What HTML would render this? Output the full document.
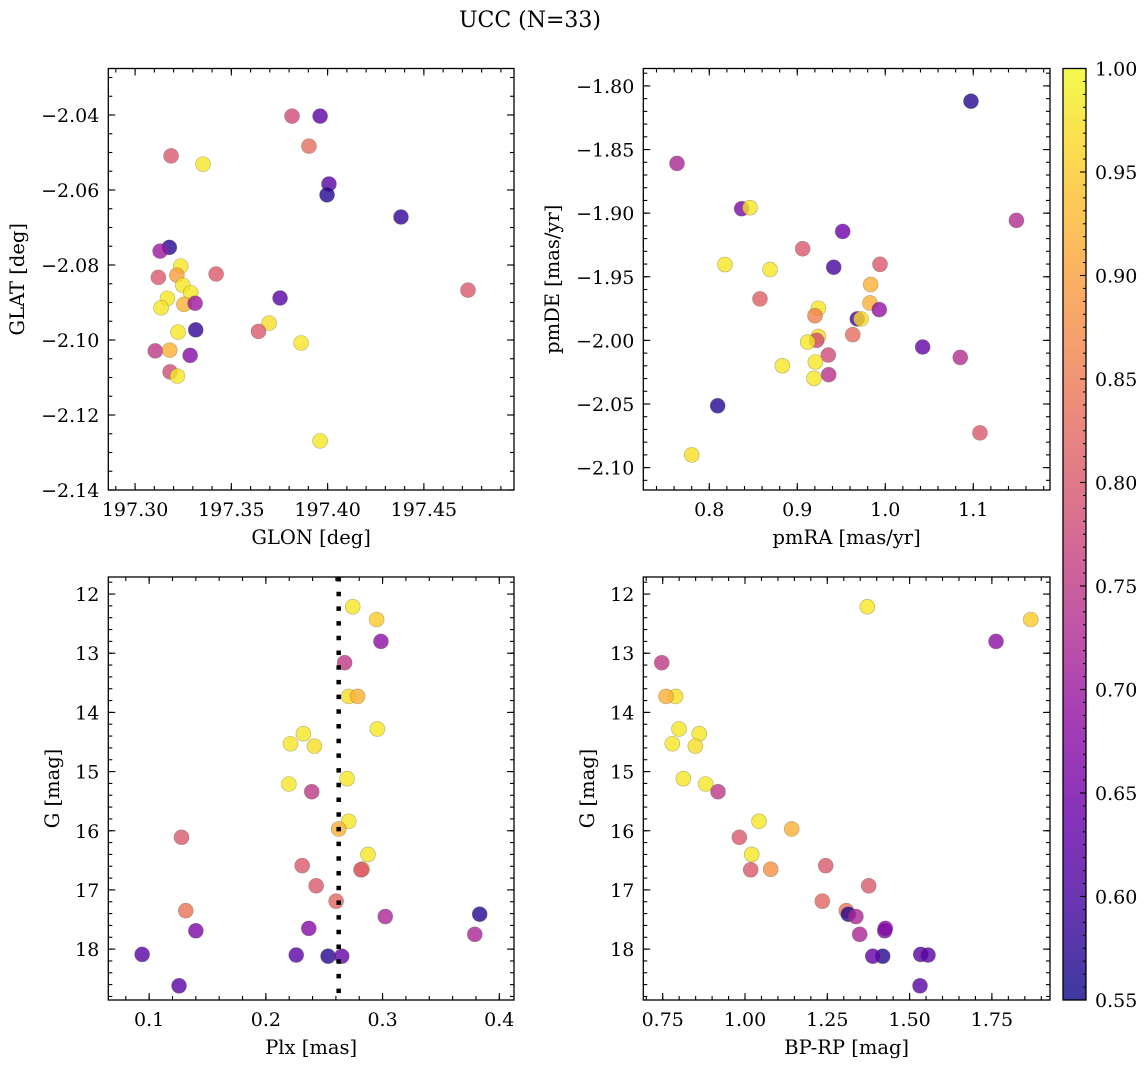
<!DOCTYPE html>
<html><head><meta charset="utf-8"><style>
html,body{margin:0;padding:0;background:#fff;}
svg{display:block;font-family:"DejaVu Serif","Liberation Serif",serif;}
</style></head><body>
<svg id="fig" width="1148" height="1067" viewBox="0 0 1148 1067" xmlns="http://www.w3.org/2000/svg">
<text x="530" y="27" font-size="22" text-anchor="middle">UCC (N=33)</text>
<defs>
<linearGradient id="plasma" x1="0" y1="1" x2="0" y2="0">
<stop offset="0" stop-color="#0d0887"/><stop offset="0.1" stop-color="#41049d"/><stop offset="0.2" stop-color="#6a00a8"/><stop offset="0.3" stop-color="#8f0da4"/><stop offset="0.4" stop-color="#b12a90"/><stop offset="0.5" stop-color="#cc4778"/><stop offset="0.6" stop-color="#e16462"/><stop offset="0.7" stop-color="#f2844b"/><stop offset="0.8" stop-color="#fca636"/><stop offset="0.9" stop-color="#fcce25"/><stop offset="1" stop-color="#f0f921"/>
</linearGradient>
</defs>
</svg>
<script>
// Panel 1: GLON / GLAT
const glon = [197.3815,197.3961,197.3903,197.3187,197.3353,197.4007,197.3997,197.4381,197.3178,197.3130,197.3237,197.3121,197.3217,197.3421,197.3248,197.3289,197.3168,197.3254,197.3312,197.3135,197.4729,197.3753,197.3696,197.3641,197.3223,197.3315,197.3862,197.3105,197.3180,197.3286,197.3182,197.3220,197.3961];
const glat = [-2.0403,-2.0403,-2.0483,-2.0509,-2.0531,-2.0584,-2.0613,-2.0672,-2.0753,-2.0763,-2.0803,-2.0833,-2.0827,-2.0824,-2.0854,-2.0874,-2.0889,-2.0905,-2.0902,-2.0914,-2.0867,-2.0888,-2.0955,-2.0977,-2.0979,-2.0973,-2.1008,-2.1029,-2.1027,-2.1041,-2.1085,-2.1096,-2.1269];
const prob1 = [0.78,0.62,0.83,0.80,0.98,0.62,0.57,0.58,0.57,0.70,0.98,0.80,0.90,0.80,0.98,0.98,0.98,0.92,0.70,0.98,0.80,0.62,0.97,0.80,0.98,0.58,0.98,0.75,0.92,0.67,0.78,0.98,0.98];
// Panel 2: pmRA / pmDE
const pmra = [0.8368,0.8462,0.9516,0.9061,0.8178,0.8690,0.9414,0.9940,0.9834,0.8576,0.9826,0.9932,0.9239,0.9201,0.9682,0.9724,0.9630,0.9239,0.9220,0.9118,0.9352,0.9205,0.8830,0.9190,0.9357,1.0425,1.0852,0.8095,1.1076,0.7800,1.0974,0.7633,1.1490];
const pmde = [-1.8965,-1.8957,-1.9144,-1.9280,-1.9404,-1.9443,-1.9425,-1.9402,-1.9561,-1.9674,-1.9706,-1.9758,-1.9748,-1.9806,-1.9831,-1.9831,-1.9955,-1.9969,-2.0000,-2.0013,-2.0115,-2.0170,-2.0199,-2.0299,-2.0270,-2.0052,-2.0134,-2.0514,-2.0727,-2.0900,-1.8120,-1.8609,-1.9057];
const prob2 = [0.66,0.98,0.64,0.80,0.98,0.98,0.60,0.80,0.92,0.81,0.92,0.69,0.98,0.86,0.60,0.97,0.83,0.97,0.78,0.98,0.78,0.98,0.98,0.98,0.74,0.63,0.73,0.57,0.80,0.97,0.57,0.72,0.73];
// Panels 3 & 4: Plx, BP-RP, G
const gmag = [12.215,12.43,12.80,13.16,13.73,13.73,14.28,14.36,14.53,14.57,15.12,15.21,15.34,15.84,15.97,16.11,16.40,16.59,16.65,16.66,16.93,17.19,17.35,17.41,17.45,17.69,17.65,17.75,18.12,18.12,18.09,18.10,18.62];
const plx = [0.2744,0.2949,0.2986,0.2675,0.2710,0.2786,0.2955,0.2322,0.2211,0.2416,0.2696,0.2197,0.2393,0.2710,0.2624,0.1277,0.2875,0.2311,0.2824,0.2815,0.2431,0.2602,0.1314,0.3832,0.3023,0.1400,0.2368,0.3790,0.2533,0.2650,0.0940,0.2260,0.1256];
const bprp = [1.3715,1.8679,1.7625,0.747,0.789,0.760,0.7995,0.861,0.779,0.849,0.8126,0.8806,0.918,1.0425,1.1418,0.9827,1.0203,1.2451,1.078,1.0173,1.3758,1.2348,1.3077,1.3138,1.337,1.4244,1.4262,1.3484,1.4183,1.388,1.5337,1.556,1.5316];
const prob34 = [0.98,0.95,0.68,0.75,0.97,0.92,0.98,0.98,0.98,0.97,0.98,0.98,0.75,0.98,0.92,0.80,0.98,0.80,0.88,0.80,0.80,0.82,0.84,0.57,0.72,0.66,0.67,0.72,0.57,0.63,0.62,0.62,0.62];
const plxRef = [0.2624];
const cbTicks = [0.55,0.60,0.65,0.70,0.75,0.80,0.85,0.90,0.95,1.00];

const NS='http://www.w3.org/2000/svg';
const svg=document.getElementById('fig');
const stops=['#0d0887','#41049d','#6a00a8','#8f0da4','#b12a90','#cc4778','#e16462','#f2844b','#fca636','#fcce25','#f0f921'].map(h=>[parseInt(h.slice(1,3),16),parseInt(h.slice(3,5),16),parseInt(h.slice(5,7),16)]);
function plasma(v){let t=(v-0.55)/0.45;t=Math.max(0,Math.min(1,t));const f=t*10,i=Math.min(9,Math.floor(f)),r=f-i;const a=stops[i],b=stops[i+1];return 'rgb('+a.map((c,k)=>Math.round(c+(b[k]-c)*r)).join(',')+')';}
function el(tag,attrs,parent){const e=document.createElementNS(NS,tag);for(const k in attrs)e.setAttribute(k,attrs[k]);(parent||svg).appendChild(e);return e;}
function fmt(v,d){const s=Math.abs(v).toFixed(d);return (v<-1e-9?'\u2212':'')+s;}

function panel(cfg){
  const g=el('g',{});
  
  
  const {L,R,T,B,x0,x1,y0,y1}=cfg;
  const sx=v=>L+(v-x0)/(x1-x0)*(R-L);
  const sy=v=>B-(v-y0)/(y1-y0)*(B-T);
  const tg=el('g',{stroke:'#000','stroke-width':1.1},g);
  
  
  function xt(v,len){const x=sx(v);if(x<L-0.5||x>R+0.5)return;el('line',{x1:x,x2:x,y1:B,y2:B-len},tg);el('line',{x1:x,x2:x,y1:T,y2:T+len},tg);}
  function yt(v,len){const y=sy(v);if(y<T-0.5||y>B+0.5)return;el('line',{x1:L,x2:L+len,y1:y,y2:y},tg);el('line',{x1:R,x2:R-len,y1:y,y2:y},tg);}
  const xlo=Math.min(x0,x1),xhi=Math.max(x0,x1),ylo=Math.min(y0,y1),yhi=Math.max(y0,y1);
  for(let v=Math.ceil(xlo/cfg.xminor)*cfg.xminor;v<=xhi;v+=cfg.xminor)xt(v,4);
  for(let v=Math.ceil(ylo/cfg.yminor)*cfg.yminor;v<=yhi;v+=cfg.yminor)yt(v,4);
  cfg.xticks.forEach(v=>{xt(v,7);const t=el('text',{x:sx(v),y:B+26,'font-size':19,'text-anchor':'middle'},g);t.textContent=fmt(v,cfg.xd);});
  cfg.yticks.forEach(v=>{yt(v,7);const t=el('text',{x:L-9,y:sy(v)+7,'font-size':19,'text-anchor':'end'},g);t.textContent=fmt(v,cfg.yd);});
  const pg=el('g',{},g);
  
  
  cfg.xs.forEach((xv,i)=>{const c=el('circle',{cx:sx(xv),cy:sy(cfg.ys[i]),r:7.5,fill:plasma(cfg.cs[i]),'fill-opacity':0.8,stroke:'rgba(90,90,60,0.45)','stroke-width':0.6},pg);});
  if(cfg.vline){const x=sx(cfg.vline[0]);const vl=el('line',{x1:x,x2:x,y1:T,y2:B,stroke:'#000','stroke-width':4.5,'stroke-dasharray':'4.5 10.2'},g);}
  const fr=el('rect',{x:L,y:T,width:R-L,height:B-T,fill:'none',stroke:'#000','stroke-width':1.3},g);
  
  
  const xl=el('text',{x:(L+R)/2,y:B+54,'font-size':19.5,'text-anchor':'middle'},g);xl.textContent=cfg.xlabel;
  
  
  const yx=cfg.ylx,yy=(T+B)/2;
  const yl=el('text',{x:yx,y:yy,'font-size':19.5,'text-anchor':'middle',transform:'rotate(-90 '+yx+' '+yy+')'},g);yl.textContent=cfg.ylabel;
  
  
}
panel({name:'glon-glat-panel',L:108.3,R:514,T:68.5,B:490,x0:197.2861,x1:197.4968,y0:-2.14,y1:-2.0276,xminor:0.01,yminor:0.005,xticks:[197.30,197.35,197.40,197.45],yticks:[-2.04,-2.06,-2.08,-2.10,-2.12,-2.14],xd:2,yd:2,xs:glon,ys:glat,cs:prob1,xlabel:'GLON [deg]',ylabel:'GLAT [deg]',ylx:24});
panel({name:'pm-panel',L:643.3,R:1050,T:68.5,B:490,x0:0.725,x1:1.1872,y0:-2.1176,y1:-1.7863,xminor:0.02,yminor:0.01,xticks:[0.8,0.9,1.0,1.1],yticks:[-1.80,-1.85,-1.90,-1.95,-2.00,-2.05,-2.10],xd:1,yd:2,xs:pmra,ys:pmde,cs:prob2,xlabel:'pmRA [mas/yr]',ylabel:'pmDE [mas/yr]',ylx:559});
panel({name:'plx-g-panel',L:108.3,R:514,T:577,B:1000,x0:0.065,x1:0.4126,y0:18.86,y1:11.712,xminor:0.02,yminor:0.2,xticks:[0.1,0.2,0.3,0.4],yticks:[12,13,14,15,16,17,18],xd:1,yd:0,xs:plx,ys:gmag,cs:prob34,xlabel:'Plx [mas]',ylabel:'G [mag]',ylx:59,vline:plxRef});
panel({name:'cmd-panel',L:643.3,R:1050,T:577,B:1000,x0:0.691,x1:1.9265,y0:18.86,y1:11.712,xminor:0.05,yminor:0.2,xticks:[0.75,1.00,1.25,1.50,1.75],yticks:[12,13,14,15,16,17,18],xd:2,yd:0,xs:bprp,ys:gmag,cs:prob34,xlabel:'BP-RP [mag]',ylabel:'G [mag]',ylx:594});

// colorbar
const cb=el('g',{});


const cL=1063,cR=1086,cT=68.5,cB=1000;
const cy=v=>cB-(v-0.55)/0.45*(cB-cT);
el('rect',{x:cL,y:cT,width:cR-cL,height:cB-cT,fill:'url(#plasma)','fill-opacity':0.8},cb);
for(let k=0;k<=72;k++){const v=0.55+k*0.00625;el('line',{x1:cR,x2:cR-3,y1:cy(v),y2:cy(v),stroke:'#000','stroke-width':1},cb);}
cbTicks.forEach(v=>{el('line',{x1:cR,x2:cR-6,y1:cy(v),y2:cy(v),stroke:'#000','stroke-width':1.1},cb);const t=el('text',{x:cR+9,y:cy(v)+7,'font-size':19},cb);t.textContent=v.toFixed(2);});
el('rect',{x:cL,y:cT,width:cR-cL,height:cB-cT,fill:'none',stroke:'#000','stroke-width':1.3},cb);
</script>
</body></html>
